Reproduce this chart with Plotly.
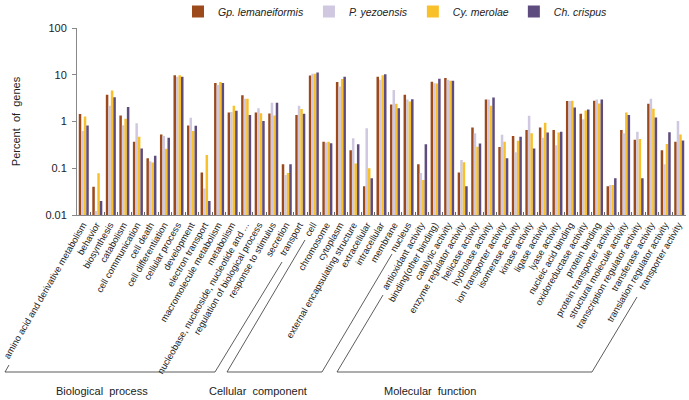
import plotly.graph_objects as go

categories = [
    "amino acid and derivative metabolism", "behavior", "biosynthesis", "catabolism",
    "cell communication", "cell death", "cell differentiation", "cellular process",
    "development", "electron transport", "macromolecule metabolism", "metabolism",
    "nucleobase, nucleoside, nucleotide and ...", "regulation of biological process",
    "response to stimulus", "secretion", "transport",
    "cell", "chromosome", "cytoplasm", "external encapsulating structure",
    "extracellular", "intracellular", "membrane", "nucleus",
    "antioxidant activity", "binding(other binding)", "catalytic activity",
    "enzyme regulator activity", "helicase activity", "hydrolase activity",
    "ion transporter activity", "isomerase activity", "kinase activity",
    "ligase activity", "lyase activity", "nucleic acid binding",
    "oxidoreductase activity", "protein binding", "protein transporter activity",
    "structural molecule activity", "transcription regulator activity",
    "transferase activity", "translation regulator activity", "transporter activity",
]

gp_lemaneiformis = [1.44, 0.040, 3.73, 1.35, 0.367, 0.164, 0.527, 9.7, 0.82, 0.081, 6.7, 1.56,
                    3.66, 1.56, 1.48, 0.122, 1.37,
                    9.6, 0.367, 6.97, 0.243, 0.041, 9.1, 2.31, 3.73,
                    0.122, 7.1, 8.5, 0.081, 0.74, 2.96, 0.286, 0.49, 0.66, 0.74, 0.66,
                    2.73, 1.46, 2.77, 0.041, 0.66, 0.405, 2.39, 0.243, 0.367]
p_yezoensis = [0.63, 0.0122, 2.17, 0.83, 0.92, 0.141, 0.49, 9.1, 1.2, 0.037, 6.0, 1.6,
               3.06, 1.93, 2.51, 0.072, 2.17,
               10.5, 0.355, 5.6, 0.44, 0.72, 7.8, 4.69, 2.96,
               0.079, 6.6, 7.8, 0.151, 0.56, 2.96, 0.52, 0.22, 1.32, 0.45, 0.31,
               2.73, 1.12, 2.96, 0.044, 0.56, 0.60, 3.06, 0.122, 1.02]
cy_merolae = [1.28, 0.078, 4.6, 1.14, 0.47, 0.132, 0.26, 9.7, 0.63, 0.193, 6.97, 2.17,
              3.06, 1.51, 1.34, 0.079, 1.84,
              10.5, 0.367, 8.1, 0.126, 0.100, 9.8, 2.39, 2.68,
              0.056, 6.5, 7.4, 0.134, 0.29, 2.17, 0.37, 0.386, 0.56, 0.94, 0.58,
              2.77, 1.72, 2.43, 0.044, 1.56, 0.42, 1.87, 0.33, 0.53]
ch_crispus = [0.82, 0.020, 3.32, 2.03, 0.264, 0.184, 0.45, 9.1, 0.81, 0.020, 6.7, 1.69,
              1.37, 1.02, 2.51, 0.122, 1.46,
              11.2, 0.343, 9.1, 0.327, 0.061, 10.3, 1.93, 3.0,
              0.327, 8.2, 7.4, 0.041, 0.34, 3.27, 0.164, 0.47, 0.264, 0.58, 0.60,
              1.99, 1.81, 2.96, 0.061, 1.37, 0.061, 1.22, 0.59, 0.39]

series_names = ["Gp. lemaneiformis", "P. yezoensis", "Cy. merolae", "Ch. crispus"]
series_values = [gp_lemaneiformis, p_yezoensis, cy_merolae, ch_crispus]
series_colors = ["#9C4A1C", "#CFC8E0", "#F8C02A", "#5E4C7E"]

y_tickvals = [0.01, 0.1, 1, 10, 100]
y_ticktext = ["0.01", "0.1", "1", "10", "100"]

group_labels = ["Biological  process", "Cellular  component", "Molecular  function"]

FONT = "Arial, Liberation Sans, sans-serif"
W, H = 689, 400
ML, MR, MT, MB = 77, 3, 28, 185
PW, PH = W - ML - MR, H - MT - MB

fig = go.Figure()
for name, vals, col in zip(series_names, series_values, series_colors):
    fig.add_trace(go.Bar(x=categories, y=vals, name=name, marker=dict(color=col, line=dict(width=0))))


def px_to_paper(px, py):
    return (px - ML) / PW, (H - MB - py) / PH


# bracket lines (decoration), in pixel coordinates
segments = [
    ((5, 372), (215, 372)), ((5, 372), (9, 365)), ((215, 372), (282, 262)),
    ((227, 372), (322, 372)), ((227, 372), (305, 240)), ((322, 372), (392, 254)),
    ((337, 372), (592, 372)), ((337, 372), (383, 295)), ((592, 372), (637, 297)),
]
shapes = []
for (a, b) in segments:
    x0, y0 = px_to_paper(*a)
    x1, y1 = px_to_paper(*b)
    shapes.append(dict(type="line", xref="paper", yref="paper", x0=x0, y0=y0, x1=x1, y1=y1,
                       line=dict(color="#333333", width=0.8)))

annotations = []
for lab, cx in zip(group_labels, [102, 258, 430]):
    xp, yp = px_to_paper(cx, 391)
    annotations.append(dict(text=lab, x=xp, y=yp, xref="paper", yref="paper", showarrow=False,
                            font=dict(family=FONT, size=11, color="#222222"),
                            xanchor="center", yanchor="middle"))

fig.update_layout(
    width=W, height=H,
    margin=dict(l=ML, r=MR, t=MT, b=MB, autoexpand=False),
    paper_bgcolor="white", plot_bgcolor="white",
    barmode="group", bargap=0.26, bargroupgap=0,
    font=dict(family=FONT, color="#222222"),
    legend=dict(orientation="h", x=px_to_paper(178, 0)[0], y=px_to_paper(0, -3)[1],
                xanchor="left", yanchor="top",
                font=dict(family=FONT, size=10.5, style="italic", color="#222222"),
                itemwidth=30, bgcolor="rgba(0,0,0,0)", tracegroupgap=0),
    shapes=shapes, annotations=annotations,
    xaxis=dict(tickangle=-60, tickfont=dict(family=FONT, size=9.3, color="#222222"),
               showline=True, linecolor="#888888", linewidth=1,
               ticks="inside", ticklen=3, tickcolor="#666666", tickson="boundaries",
               ticklabelshift=-1,
               showgrid=False, range=[-0.5, len(categories) - 0.5], automargin=False),
    yaxis=dict(type="log", range=[-2, 2], tickvals=y_tickvals, ticktext=y_ticktext,
               tickfont=dict(family=FONT, size=11, color="#222222"),
               showline=True, linecolor="#888888", linewidth=1,
               ticks="outside", ticklen=4, tickcolor="#888888", showgrid=False, zeroline=False,
               ticklabelstandoff=3, automargin=False,
               title=dict(text="Percent  of  genes", font=dict(family=FONT, size=11, color="#222222"),
                          standoff=22)),
)

fig.write_html("out.html", config={"displayModeBar": False},
               post_script="document.body.style.margin='0px';document.body.style.overflow='hidden';")
